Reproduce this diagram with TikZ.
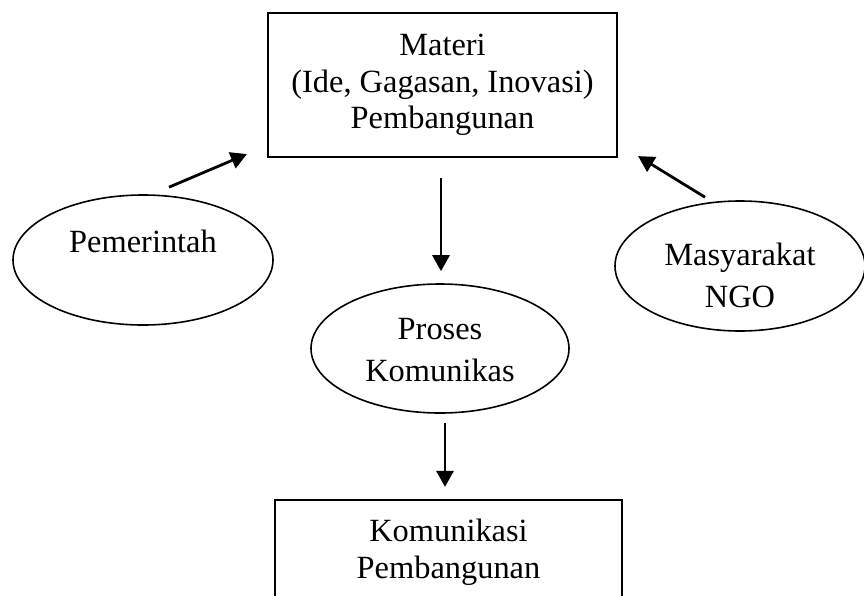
\documentclass[tikz,border=0pt]{standalone}
\usepackage{fontspec}
\setmainfont{Liberation Serif}
\usetikzlibrary{arrows.meta,calc,shapes.geometric}
\begin{document}
\begin{tikzpicture}[x=1pt,y=-1pt,
  every node/.style={font=\fontsize{32.4}{36.5}\selectfont},
  boxnode/.style={draw,line width=2.2pt,align=center,inner sep=0pt},
  ellnode/.style={draw,ellipse,line width=1.6pt,inner sep=0pt},
  lbl/.style={align=center,inner sep=0pt},
  arr/.style={line width=2.8pt,-{Triangle[length=16pt,width=17pt]}}]
\useasboundingbox (0,0) rectangle (864,595);
\node[boxnode,minimum width=349pt,minimum height=144pt] (top) at (442.5,85) {Materi\\(Ide, Gagasan, Inovasi)\\Pembangunan};
\node[boxnode,minimum width=347pt,minimum height=104pt] (bot) at (448.5,552) {Komunikasi\\Pembangunan};
\node[ellnode,minimum width=260pt,minimum height=130pt] (pem) at (143,260) {};
\node[ellnode,minimum width=250pt,minimum height=130pt] (mas) at (740,266) {};
\node[ellnode,minimum width=258pt,minimum height=129pt] (pro) at (440,348.5) {};
\node[lbl,anchor=base] (pemt) at (143,252) {Pemerintah};
\node[lbl,font=\fontsize{32.4}{42}\selectfont] (mast) at (740,275) {Masyarakat\\NGO};
\node[lbl,font=\fontsize{32.4}{42}\selectfont] (prot) at (440,350) {Proses\\Komunikas};
\draw[arr] ([xshift=26pt,yshift=7pt]pem.north) -- ([xshift=-20pt,yshift=4pt]top.south west);
\draw[arr] ([xshift=-35pt,yshift=3pt]mas.north) -- ([xshift=20pt,yshift=2pt]top.south east);
\draw[arr] ($(pro.north |- top.south)+(1pt,-20pt)$) -- ([xshift=1pt,yshift=12pt]pro.north);
\draw[arr] ($(pro.south)+(5pt,-9pt)$) -- ($(pro.south |- bot.north)+(5pt,12pt)$);
\end{tikzpicture}
\end{document}
